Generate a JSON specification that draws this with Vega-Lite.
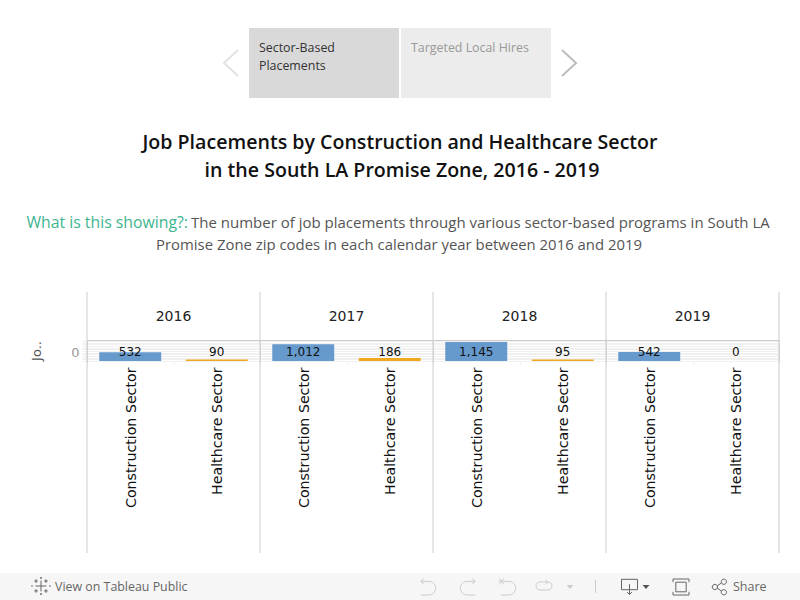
{
  "$schema": "https://vega.github.io/schema/vega-lite/v6.json",
  "padding": 0,
  "background": "white",
  "autosize": {"type": "pad"},
  "config": {"view": {"stroke": null}, "font": "Open Sans"},
  "bounds": "flush",
  "spacing": 0,
  "datasets": {
    "placements": [
      {"year": "2016", "sector": "Construction Sector", "jobs": 532, "label": "532"},
      {"year": "2016", "sector": "Healthcare Sector", "jobs": 90, "label": "90"},
      {"year": "2017", "sector": "Construction Sector", "jobs": 1012, "label": "1,012"},
      {"year": "2017", "sector": "Healthcare Sector", "jobs": 186, "label": "186"},
      {"year": "2018", "sector": "Construction Sector", "jobs": 1145, "label": "1,145"},
      {"year": "2018", "sector": "Healthcare Sector", "jobs": 95, "label": "95"},
      {"year": "2019", "sector": "Construction Sector", "jobs": 542, "label": "542"},
      {"year": "2019", "sector": "Healthcare Sector", "jobs": 0, "label": "0"}
    ],
    "one": [{"k": 1}]
  },
  "vconcat": [
    {
      "width": 800,
      "height": 340,
      "data": {"name": "one"},
      "layer": [
        {"mark": {"type": "rect", "color": "#d9d9d9"}, "encoding": {
          "x": {"datum": 249, "type": "quantitative", "axis": null, "scale": {"domain": [0, 800], "nice": false}},
          "x2": {"datum": 399},
          "y": {"datum": 28, "type": "quantitative", "axis": null, "scale": {"domain": [340, 0], "nice": false}},
          "y2": {"datum": 98}}},
        {"mark": {"type": "rect", "color": "#ececec"}, "encoding": {
          "x": {"datum": 401, "type": "quantitative", "axis": null}, "x2": {"datum": 551},
          "y": {"datum": 28, "type": "quantitative", "axis": null}, "y2": {"datum": 98}}},
        {"mark": {"type": "point", "shape": "M0.54,-1L-0.54,0L0.54,1", "filled": false, "color": "#e2e2e2", "strokeWidth": 2, "size": 676, "opacity": 1}, "encoding": {
          "x": {"datum": 231, "type": "quantitative", "axis": null}, "y": {"datum": 63, "type": "quantitative", "axis": null}}},
        {"mark": {"type": "point", "shape": "M-0.54,-1L0.54,0L-0.54,1", "filled": false, "color": "#bdbdbd", "strokeWidth": 2, "size": 676, "opacity": 1}, "encoding": {
          "x": {"datum": 569, "type": "quantitative", "axis": null}, "y": {"datum": 63, "type": "quantitative", "axis": null}}},
        {"mark": {"type": "text", "align": "left", "baseline": "middle", "fontSize": 12.4, "color": "#333333"}, "encoding": {
          "text": {"datum": "Sector-Based"},
          "x": {"datum": 259, "type": "quantitative", "axis": null}, "y": {"datum": 47.5, "type": "quantitative", "axis": null}}},
        {"mark": {"type": "text", "align": "left", "baseline": "middle", "fontSize": 12.4, "color": "#333333"}, "encoding": {
          "text": {"datum": "Placements"},
          "x": {"datum": 259, "type": "quantitative", "axis": null}, "y": {"datum": 65.5, "type": "quantitative", "axis": null}}},
        {"mark": {"type": "text", "align": "left", "baseline": "middle", "fontSize": 12.4, "color": "#999999"}, "encoding": {
          "text": {"datum": "Targeted Local Hires"},
          "x": {"datum": 411, "type": "quantitative", "axis": null}, "y": {"datum": 47.5, "type": "quantitative", "axis": null}}},
        {"mark": {"type": "text", "align": "center", "baseline": "middle", "fontSize": 19.6, "fontWeight": 600, "color": "#111111"}, "encoding": {
          "text": {"datum": "Job Placements by Construction and Healthcare Sector"},
          "x": {"datum": 400, "type": "quantitative", "axis": null}, "y": {"datum": 143, "type": "quantitative", "axis": null}}},
        {"mark": {"type": "text", "align": "center", "baseline": "middle", "fontSize": 19.6, "fontWeight": 600, "color": "#111111"}, "encoding": {
          "text": {"datum": "in the South LA Promise Zone, 2016 - 2019"},
          "x": {"datum": 402, "type": "quantitative", "axis": null}, "y": {"datum": 171, "type": "quantitative", "axis": null}}},
        {"mark": {"type": "text", "align": "right", "baseline": "middle", "fontSize": 15.8, "color": "#3cb58f"}, "encoding": {
          "text": {"datum": "What is this showing?:"},
          "x": {"datum": 188, "type": "quantitative", "axis": null}, "y": {"datum": 223, "type": "quantitative", "axis": null}}},
        {"mark": {"type": "text", "align": "left", "baseline": "middle", "fontSize": 15, "color": "#555555"}, "encoding": {
          "text": {"datum": "The number of job placements through various sector-based programs in South LA"},
          "x": {"datum": 191, "type": "quantitative", "axis": null}, "y": {"datum": 223, "type": "quantitative", "axis": null}}},
        {"mark": {"type": "text", "align": "center", "baseline": "middle", "fontSize": 14.9, "color": "#555555"}, "encoding": {
          "text": {"datum": "Promise Zone zip codes in each calendar year between 2016 and 2019"},
          "x": {"datum": 399, "type": "quantitative", "axis": null}, "y": {"datum": 246, "type": "quantitative", "axis": null}}}
      ]
    },
    {
      "bounds": "flush",
      "spacing": 0,
      "hconcat": [
        {
          "width": 87,
          "height": 21,
          "data": {"name": "one"},
          "mark": {"type": "text"},
          "encoding": {"text": {"value": ""}}
        },
        {
          "data": {"name": "placements"},
          "spacing": 0,
          "bounds": "flush",
          "facet": {
            "column": {
              "field": "year",
              "type": "nominal",
              "title": null,
              "header": {"labelFontSize": 14, "labelColor": "#222222", "labelFont": "DejaVu Sans", "labelPadding": 9, "labelOrient": "top", "labelBaseline": "middle"}
            }
          },
          "spec": {
            "width": 173,
            "height": 21,
            "view": {"stroke": "#cccccc"},
            "encoding": {
              "x": {
                "field": "sector",
                "type": "nominal",
                "title": null,
                "scale": {"paddingInner": 0, "paddingOuter": 0},
                "axis": {"labelAngle": -90, "labelAlign": "right", "labelBaseline": "middle", "labelFontSize": 14.2, "labelFont": "DejaVu Sans", "labelColor": "#111111", "labelPadding": 3, "labelOffset": 1, "domain": false, "tickBand": "extent", "tickColor": "#eeeeee", "tickSize": 3, "grid": false}
              }
            },
            "layer": [
              {
                "mark": {"type": "bar", "width": {"band": 0.716}},
                "encoding": {
                  "y": {
                    "field": "jobs",
                    "type": "quantitative",
                    "title": "Jo..",
                    "scale": {"domain": [0, 1265], "nice": false},
                    "axis": {"grid": true, "values": [0, 100, 200, 300, 400, 500, 600, 700, 800, 900, 1000, 1100, 1200], "labelExpr": "datum.value === 500 ? '0' : ''", "gridColor": "#f0f0f0", "tickColor": "#f0f0f0", "tickSize": 5, "domain": false, "labelColor": "#999999", "labelFontSize": 13, "labelFont": "DejaVu Sans", "labelPadding": 3, "labelOverlap": false, "titleFontSize": 13, "titleFontWeight": "normal", "titleFont": "DejaVu Sans", "titleColor": "#555555", "titlePadding": 27}
                  },
                  "color": {"field": "sector", "legend": null, "scale": {"domain": ["Construction Sector", "Healthcare Sector"], "range": ["#6699cc", "#f0a81e"]}}
                }
              },
              {
                "mark": {"type": "text", "baseline": "middle", "fontSize": 12, "font": "DejaVu Sans", "color": "#111111"},
                "encoding": {"y": {"datum": 542, "type": "quantitative", "title": "Jo..", "axis": {"grid": true, "values": [0, 100, 200, 300, 400, 500, 600, 700, 800, 900, 1000, 1100, 1200], "labelExpr": "datum.value === 500 ? '0' : ''", "gridColor": "#f0f0f0", "tickColor": "#f0f0f0", "tickSize": 5, "domain": false, "labelColor": "#999999", "labelFontSize": 13, "labelFont": "DejaVu Sans", "labelPadding": 3, "labelOverlap": false, "titleFontSize": 13, "titleFontWeight": "normal", "titleFont": "DejaVu Sans", "titleColor": "#555555", "titlePadding": 27}}, "text": {"field": "label"}}
              },
              {
                "transform": [{"filter": "datum.sector === 'Construction Sector'"}],
                "mark": {"type": "rule", "color": "#cccccc", "clip": false},
                "encoding": {"x": {"field": "sector", "type": "nominal", "bandPosition": 0}, "y": {"datum": 4157, "type": "quantitative", "title": "Jo..", "axis": {"grid": true, "values": [0, 100, 200, 300, 400, 500, 600, 700, 800, 900, 1000, 1100, 1200], "labelExpr": "datum.value === 500 ? '0' : ''", "gridColor": "#f0f0f0", "tickColor": "#f0f0f0", "tickSize": 5, "domain": false, "labelColor": "#999999", "labelFontSize": 13, "labelFont": "DejaVu Sans", "labelPadding": 3, "labelOverlap": false, "titleFontSize": 13, "titleFontWeight": "normal", "titleFont": "DejaVu Sans", "titleColor": "#555555", "titlePadding": 27}}, "y2": {"datum": -11566}}
              },
              {
                "transform": [{"filter": "datum.sector === 'Healthcare Sector' && datum.year === '2019'"}],
                "mark": {"type": "rule", "color": "#cccccc", "clip": false},
                "encoding": {"x": {"field": "sector", "type": "nominal", "bandPosition": 1}, "y": {"datum": 4157, "type": "quantitative", "title": "Jo..", "axis": {"grid": true, "values": [0, 100, 200, 300, 400, 500, 600, 700, 800, 900, 1000, 1100, 1200], "labelExpr": "datum.value === 500 ? '0' : ''", "gridColor": "#f0f0f0", "tickColor": "#f0f0f0", "tickSize": 5, "domain": false, "labelColor": "#999999", "labelFontSize": 13, "labelFont": "DejaVu Sans", "labelPadding": 3, "labelOverlap": false, "titleFontSize": 13, "titleFontWeight": "normal", "titleFont": "DejaVu Sans", "titleColor": "#555555", "titlePadding": 27}}, "y2": {"datum": -11566}}
              }
            ]
          }
        }
      ]
    },
    {
      "width": 800,
      "height": 260,
      "data": {"name": "one"},
      "layer": [
        {"mark": {"type": "rect", "color": "#f6f6f6"}, "encoding": {
          "x": {"datum": 0, "type": "quantitative", "axis": null, "scale": {"domain": [0, 800], "nice": false}},
          "x2": {"datum": 800},
          "y": {"datum": 233, "type": "quantitative", "axis": null, "scale": {"domain": [260, 0], "nice": false}},
          "y2": {"datum": 260}}},
        {"mark": {"type": "text", "align": "left", "baseline": "middle", "fontSize": 12.4, "color": "#666666"}, "encoding": {
          "text": {"datum": "View on Tableau Public"},
          "x": {"datum": 55, "type": "quantitative", "axis": null}, "y": {"datum": 247, "type": "quantitative", "axis": null}}},
        {"mark": {"type": "text", "align": "left", "baseline": "middle", "fontSize": 12.5, "color": "#666666"}, "encoding": {
          "text": {"datum": "Share"},
          "x": {"datum": 733, "type": "quantitative", "axis": null}, "y": {"datum": 247, "type": "quantitative", "axis": null}}},
        {"mark": {"type": "point", "shape": "M0,-0.6V0.6M-0.6,0H0.6M-0.55,-0.75V-0.35M-0.75,-0.55H-0.35M0.55,-0.75V-0.35M0.35,-0.55H0.75M-0.55,0.35V0.75M-0.75,0.55H-0.35M0.55,0.35V0.75M0.35,0.55H0.75M0,-1V-0.8M-0.1,-0.9H0.1M0,0.8V1M-0.1,0.9H0.1M-1,-0.1V0.1M1,-0.1V0.1", "filled": false, "color": "#666666", "strokeWidth": 1, "size": 324, "opacity": 1}, "encoding": {
          "x": {"datum": 41, "type": "quantitative", "axis": null}, "y": {"datum": 246, "type": "quantitative", "axis": null}}},
        {"mark": {"type": "point", "shape": "M-0.9,-0.7H0.1A0.85,0.85 0 0 1 0.1,1H-0.9M-0.9,-0.7L-0.5,-1.05M-0.9,-0.7L-0.5,-0.35", "filled": false, "color": "#cccccc", "strokeWidth": 1, "size": 256, "opacity": 1}, "encoding": {
          "x": {"datum": 428, "type": "quantitative", "axis": null}, "y": {"datum": 247, "type": "quantitative", "axis": null}}},
        {"mark": {"type": "point", "shape": "M0.9,-0.7H-0.1A0.85,0.85 0 0 0 -0.1,1H0.9M0.9,-0.7L0.5,-1.05M0.9,-0.7L0.5,-0.35", "filled": false, "color": "#cccccc", "strokeWidth": 1, "size": 256, "opacity": 1}, "encoding": {
          "x": {"datum": 468, "type": "quantitative", "axis": null}, "y": {"datum": 247, "type": "quantitative", "axis": null}}},
        {"mark": {"type": "point", "shape": "M-0.9,-0.7H0.1A0.85,0.85 0 0 1 0.1,1H-0.9M-0.9,-0.7L-0.5,-1.05M-0.9,-0.7L-0.5,-0.35M-1,-1.05V-0.35", "filled": false, "color": "#cccccc", "strokeWidth": 1, "size": 256, "opacity": 1}, "encoding": {
          "x": {"datum": 508, "type": "quantitative", "axis": null}, "y": {"datum": 247, "type": "quantitative", "axis": null}}},
        {"mark": {"type": "point", "shape": "M-0.5,-0.5H0.5A0.5,0.5 0 0 1 0.5,0.5H-0.5A0.5,0.5 0 0 1 -0.5,-0.5M0.5,-0.5L0.2,-0.8M0.5,-0.5L0.2,-0.2", "filled": false, "color": "#cccccc", "strokeWidth": 1, "size": 256, "opacity": 1}, "encoding": {
          "x": {"datum": 544, "type": "quantitative", "axis": null}, "y": {"datum": 246, "type": "quantitative", "axis": null}}},
        {"mark": {"type": "point", "shape": "M-1,-0.6H1L0,0.6Z", "filled": true, "color": "#cccccc", "size": 49, "opacity": 1}, "encoding": {
          "x": {"datum": 570, "type": "quantitative", "axis": null}, "y": {"datum": 247, "type": "quantitative", "axis": null}}},
        {"mark": {"type": "rule", "color": "#cccccc"}, "encoding": {
          "x": {"datum": 595.5, "type": "quantitative", "axis": null}, "y": {"datum": 240, "type": "quantitative", "axis": null}, "y2": {"datum": 253}}},
        {"mark": {"type": "point", "shape": "M-1,-0.9H1V0.4H-1ZM0,-0.3V1M-0.3,0.7L0,1L0.3,0.7", "filled": false, "color": "#666666", "strokeWidth": 1, "size": 256, "opacity": 1}, "encoding": {
          "x": {"datum": 629.5, "type": "quantitative", "axis": null}, "y": {"datum": 246.5, "type": "quantitative", "axis": null}}},
        {"mark": {"type": "point", "shape": "M-1,-0.6H1L0,0.6Z", "filled": true, "color": "#555555", "size": 49, "opacity": 1}, "encoding": {
          "x": {"datum": 646, "type": "quantitative", "axis": null}, "y": {"datum": 247, "type": "quantitative", "axis": null}}},
        {"mark": {"type": "point", "shape": "M-1,-0.6V-1H1V-0.6M-1,0.6V1H1V0.6M-0.65,-0.6H0.65V0.6H-0.65Z", "filled": false, "color": "#666666", "strokeWidth": 1, "size": 256, "opacity": 1}, "encoding": {
          "x": {"datum": 681, "type": "quantitative", "axis": null}, "y": {"datum": 247, "type": "quantitative", "axis": null}}},
        {"mark": {"type": "point", "shape": "M-0.2,0A0.35,0.35 0 1 1 -0.9,0A0.35,0.35 0 1 1 -0.2,0M1,-0.7A0.35,0.35 0 1 1 0.3,-0.7A0.35,0.35 0 1 1 1,-0.7M1,0.7A0.35,0.35 0 1 1 0.3,0.7A0.35,0.35 0 1 1 1,0.7M-0.25,-0.15L0.35,-0.55M-0.25,0.15L0.35,0.55", "filled": false, "color": "#666666", "strokeWidth": 1, "size": 225, "opacity": 1}, "encoding": {
          "x": {"datum": 719, "type": "quantitative", "axis": null}, "y": {"datum": 247, "type": "quantitative", "axis": null}}}
      ]
    }
  ]
}
